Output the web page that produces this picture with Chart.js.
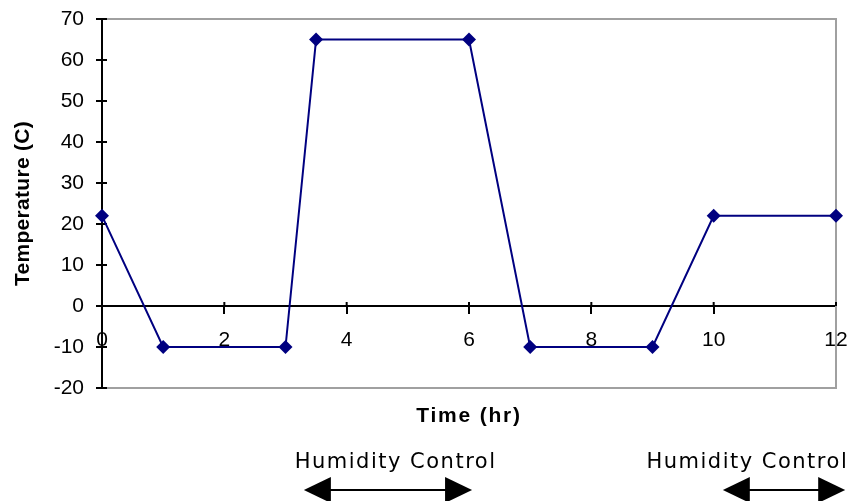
<!DOCTYPE html>
<html>
<head>
<meta charset="utf-8">
<script src="https://cdn.jsdelivr.net/npm/chart.js@4"></script>
<style>
  html, body { margin: 0; padding: 0; background: #fff; }
  #wrap { width: 851px; height: 501px; }
</style>
</head>
<body>
<div id="wrap"><canvas id="chart" width="851" height="501"></canvas></div>
<script>
// Temperature profile
const timeHr = [0, 1, 3, 3.5, 6, 7, 9, 10, 12];
const tempC = [22, -10, -10, 65, 65, -10, -10, 22, 22];

const xTicks = [0, 2, 4, 6, 8, 10, 12];
const yTicks = [-20, -10, 0, 10, 20, 30, 40, 50, 60, 70];

// Humidity control periods (hours), shown as arrows under the chart
const humidityLabel = 'Humidity Control';
const humidityStart = [3.3, 10.15];
const humidityEnd = [6.05, 12.15];
const humidityLabelCenter = [4.8, 10.55];

const lineColor = '#000080';
const fontFamily = '"Liberation Sans", Arial, sans-serif';

Chart.defaults.font.family = fontFamily;

const points = timeHr.map((t, i) => ({ x: t, y: tempC[i] }));

function noOverhang(s) {
    s.paddingTop = 0;
    s.paddingBottom = 0;
    s.paddingLeft = 0;
    s.paddingRight = 0;
}

function drawArrow(ctx, x1, x2, y) {
    const head = 27, half = 13;
    ctx.beginPath();
    ctx.moveTo(x1 + head - 2, y);
    ctx.lineTo(x2 - head + 2, y);
    ctx.stroke();
    ctx.beginPath();
    ctx.moveTo(x1, y);
    ctx.lineTo(x1 + head, y - half);
    ctx.lineTo(x1 + head, y + half);
    ctx.closePath();
    ctx.fill();
    ctx.beginPath();
    ctx.moveTo(x2, y);
    ctx.lineTo(x2 - head, y - half);
    ctx.lineTo(x2 - head, y + half);
    ctx.closePath();
    ctx.fill();
}

const extras = {
    id: 'extras',
    beforeDatasetsDraw(chart) {
        const { ctx, chartArea: a, scales: { x, y } } = chart;
        ctx.save();
        // gray frame (top, right, bottom)
        ctx.strokeStyle = '#a0a0a0';
        ctx.lineWidth = 2;
        ctx.beginPath();
        ctx.moveTo(a.left, a.top);
        ctx.lineTo(a.right, a.top);
        ctx.lineTo(a.right, a.bottom);
        ctx.lineTo(a.left, a.bottom);
        ctx.stroke();
        // axis line again in black over the frame
        ctx.strokeStyle = '#000';
        ctx.beginPath();
        ctx.moveTo(a.left, a.top);
        ctx.lineTo(a.left, a.bottom);
        ctx.stroke();
        // inner halves of the tick marks
        const y0 = y.getPixelForValue(0);
        yTicks.forEach(v => {
            const py = y.getPixelForValue(v);
            ctx.beginPath();
            ctx.moveTo(a.left, py);
            ctx.lineTo(a.left + 5, py);
            ctx.stroke();
        });
        xTicks.forEach(v => {
            const px = x.getPixelForValue(v);
            ctx.beginPath();
            ctx.moveTo(px, y0);
            ctx.lineTo(px, y0 - 4);
            ctx.stroke();
        });
        ctx.restore();
    },
    afterDraw(chart) {
        const { ctx, chartArea: a, scales: { x } } = chart;
        ctx.save();
        ctx.fillStyle = '#000';
        ctx.strokeStyle = '#000';

        // y axis title
        ctx.save();
        ctx.translate(23, (a.top + a.bottom) / 2);
        ctx.rotate(-Math.PI / 2);
        ctx.font = 'bold 21px ' + fontFamily;
        ctx.letterSpacing = '0.3px';
        ctx.textAlign = 'center';
        ctx.textBaseline = 'middle';
        ctx.fillText('Temperature (C)', 0, 0);
        ctx.restore();

        // x axis title
        ctx.font = 'bold 21px ' + fontFamily;
        ctx.letterSpacing = '1.8px';
        ctx.textAlign = 'center';
        ctx.textBaseline = 'alphabetic';
        ctx.fillText('Time (hr)', (a.left + a.right) / 2, 422);

        // humidity control labels and arrows
        ctx.font = '21px "DejaVu Sans", sans-serif';
        ctx.letterSpacing = '1.5px';
        humidityLabelCenter.forEach(t => {
            ctx.fillText(humidityLabel, x.getPixelForValue(t), 468);
        });
        ctx.letterSpacing = '0px';
        ctx.lineWidth = 2;
        humidityStart.forEach((t, i) => {
            drawArrow(ctx, x.getPixelForValue(t), x.getPixelForValue(humidityEnd[i]), 490);
        });
        ctx.restore();
    }
};

const chart = new Chart(document.getElementById('chart').getContext('2d'), {
    type: 'scatter',
    data: {
        datasets: [{
            data: points,
            showLine: true,
            borderColor: lineColor,
            backgroundColor: lineColor,
            borderWidth: 2,
            pointStyle: 'rectRot',
            pointRadius: 7,
            pointBorderWidth: 0,
            clip: false
        }]
    },
    options: {
        responsive: false,
        animation: false,
        layout: {
            autoPadding: false,
            padding: { left: 0, top: 19, right: 15, bottom: 113 }
        },
        plugins: {
            legend: { display: false },
            tooltip: { enabled: false }
        },
        scales: {
            x: {
                type: 'linear',
                position: { y: 0 },
                min: 0,
                max: 12,
                afterBuildTicks: s => { s.ticks = xTicks.map(v => ({ value: v })); },
                afterFit: noOverhang,
                grid: { drawOnChartArea: false, color: '#000', lineWidth: 2, tickLength: 7 },
                border: { color: '#000', width: 2 },
                ticks: { color: '#000', font: { size: 21 }, padding: 15, maxRotation: 0 }
            },
            y: {
                min: -20,
                max: 70,
                afterBuildTicks: s => { s.ticks = yTicks.map(v => ({ value: v })); },
                afterFit: s => { s.width = 102; noOverhang(s); },
                grid: { drawOnChartArea: false, color: '#000', lineWidth: 2, tickLength: 6 },
                border: { color: '#000', width: 2 },
                ticks: { color: '#000', font: { size: 21 }, padding: 12 }
            }
        }
    },
    plugins: [extras]
});
</script>
</body>
</html>
